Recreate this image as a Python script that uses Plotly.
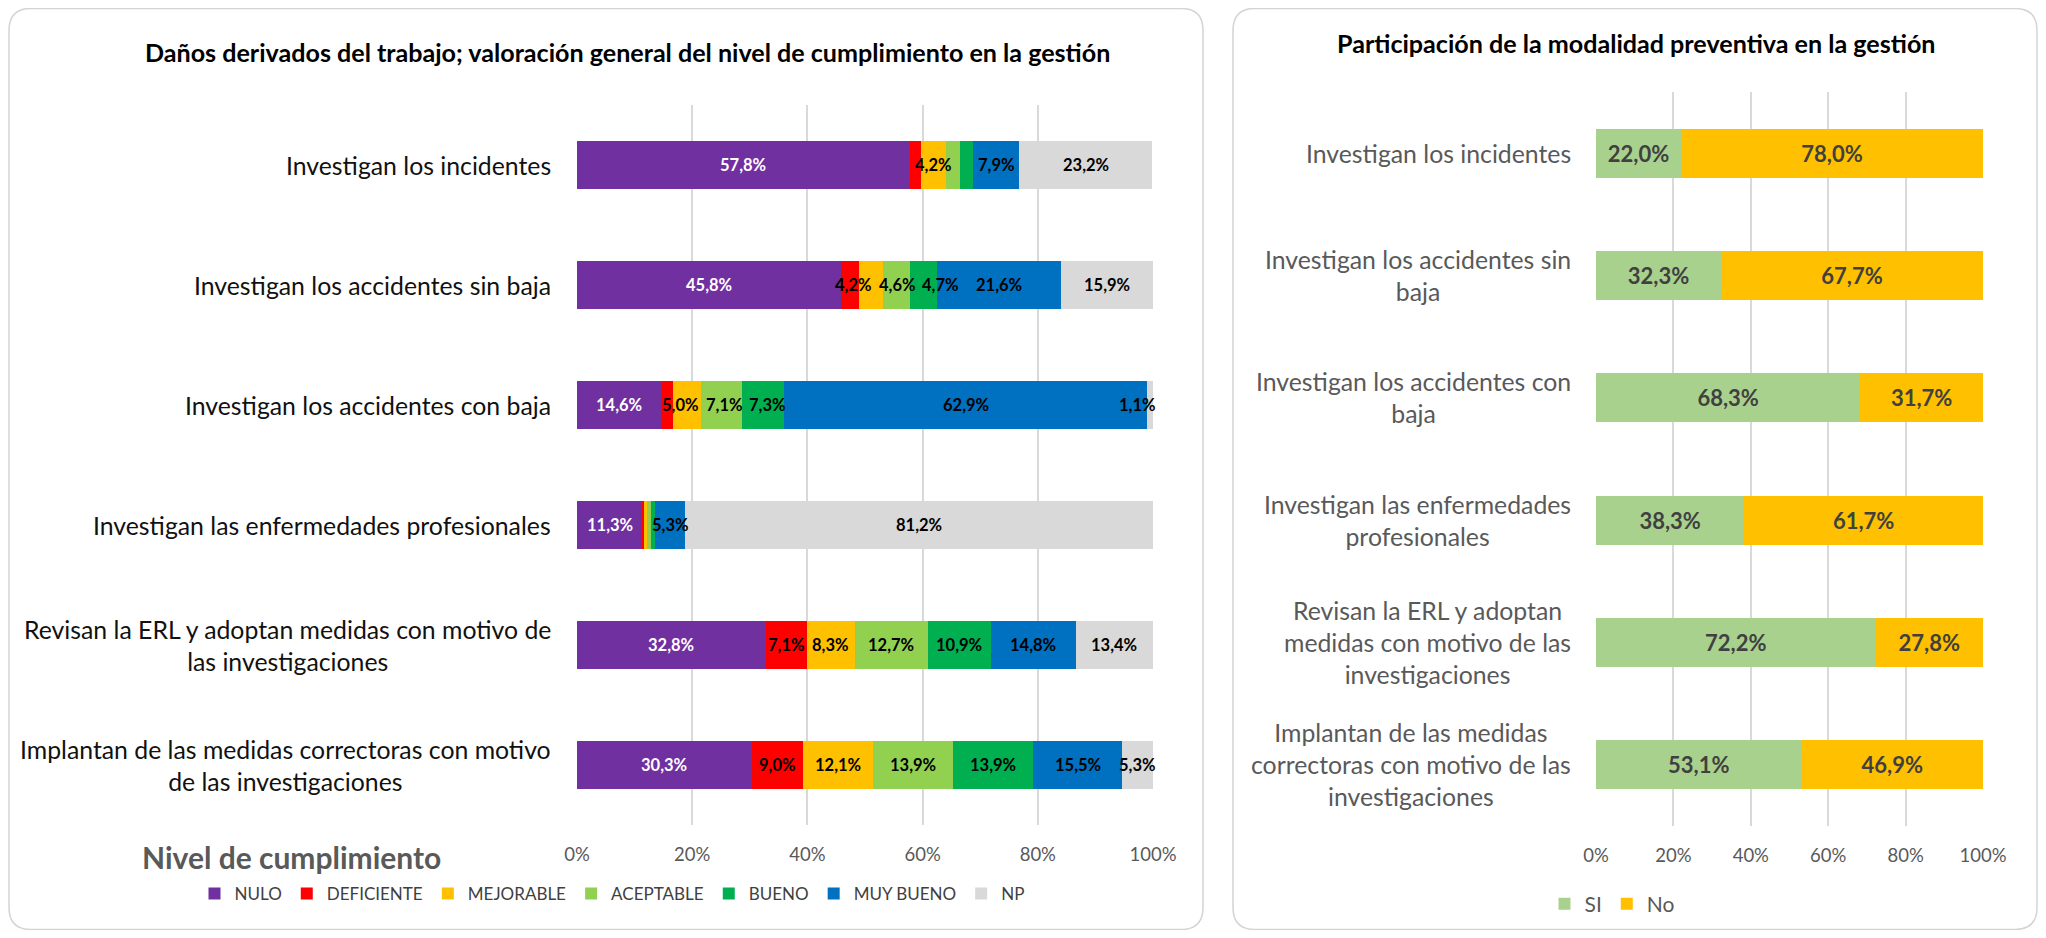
import plotly.graph_objects as go

# --- data ---
categories_left = [
    "Investigan los incidentes",
    "Investigan los accidentes sin baja",
    "Investigan los accidentes con baja",
    "Investigan las enfermedades profesionales",
    "Revisan la ERL y adoptan medidas con motivo de<br>las investigaciones",
    "Implantan de las medidas correctoras con motivo<br>de las investigaciones",
]
categories_right = [
    "Investigan los incidentes",
    "Investigan los accidentes sin<br>baja",
    "Investigan los accidentes con<br>baja",
    "Investigan las enfermedades<br>profesionales",
    "Revisan la ERL y adoptan<br>medidas con motivo de las<br>investigaciones",
    "Implantan de las medidas<br>correctoras con motivo de las<br>investigaciones",
]

nulo = [57.8, 45.8, 14.6, 11.3, 32.8, 30.3]
deficiente = [2.0, 3.2, 2.0, 0.3, 7.1, 9.0]
mejorable = [4.2, 4.2, 5.0, 0.5, 8.3, 12.1]
aceptable = [2.5, 4.6, 7.1, 0.7, 12.7, 13.9]
bueno = [2.3, 4.7, 7.3, 0.7, 10.9, 13.9]
muy_bueno = [7.9, 21.6, 62.9, 5.3, 14.8, 15.5]
np_ = [23.2, 15.9, 1.1, 81.2, 13.4, 5.3]

si = [22.0, 32.3, 68.3, 38.3, 72.2, 53.1]
no = [78.0, 67.7, 31.7, 61.7, 27.8, 46.9]

tick_vals = [0, 20, 40, 60, 80, 100]
tick_text = ["0%", "20%", "40%", "60%", "80%", "100%"]

FONT = "Lato"
# the page body keeps its 8px margin, so the figure is made 16px smaller
PAGE_W, PAGE_H, OFF = 2046, 938, 8
W, H = PAGE_W - 2 * OFF, PAGE_H - 2 * OFF


def pct(v):
    return f"{v:.1f}".replace(".", ",") + "%"


def px(x):
    # page pixel -> paper fraction
    return min(max((x - OFF) / W, 0.0005), 0.9995)


def py(y):
    return 1 - min(max((y - OFF) / H, 0.0005), 0.9995)


def spread(items, gap=1.5, char_w=1.5):
    # items: list of (center, text) in axis units; push apart labels that would collide
    pos = [c for c, _ in items]
    wid = [len(t) * char_w for _, t in items]
    for _ in range(200):
        moved = False
        for i in range(len(pos) - 1):
            need = (wid[i] + wid[i + 1]) / 2 + gap
            d = pos[i + 1] - pos[i]
            if d < need - 1e-6:
                s = (need - d) / 2
                pos[i] -= s
                pos[i + 1] += s
                moved = True
        pos = [min(max(p, w / 2 - 0.3), 100 - w / 2 + 0.3) for p, w in zip(pos, wid)]
        if not moved:
            break
    return pos


fig = go.Figure()

left_series = [
    ("NULO", nulo, "#7030A0", "white"),
    ("DEFICIENTE", deficiente, "#FF0000", "black"),
    ("MEJORABLE", mejorable, "#FFC000", "black"),
    ("ACEPTABLE", aceptable, "#92D050", "black"),
    ("BUENO", bueno, "#00B050", "black"),
    ("MUY BUENO", muy_bueno, "#0070C0", "black"),
    ("NP", np_, "#D9D9D9", "black"),
]
for name, vals, color, tcolor in left_series:
    fig.add_trace(go.Bar(
        y=categories_left, x=vals, name=name, orientation="h",
        marker=dict(color=color, line=dict(width=0)),
        xaxis="x", yaxis="y", legend="legend", hoverinfo="skip",
    ))

for name, vals, color in [("SI", si, "#A9D18E"), ("No", no, "#FFC000")]:
    fig.add_trace(go.Bar(
        y=categories_right, x=vals, name=name, orientation="h",
        marker=dict(color=color, line=dict(width=0)),
        text=[pct(v) for v in vals], textposition="inside",
        insidetextanchor="middle", textangle=0, constraintext="none",
        textfont=dict(family=FONT, size=22, color="#404040", weight="bold"),
        xaxis="x2", yaxis="y2", legend="legend2", hoverinfo="skip",
    ))

axis_common = dict(
    range=[0, 100], tickvals=tick_vals, ticktext=tick_text,
    showgrid=True, gridcolor="#D9D9D9", gridwidth=1.5,
    zeroline=False, showline=False, ticks="",
    tickfont=dict(family=FONT, size=18.5, color="#595959"),
    ticklabelstandoff=16, fixedrange=True, automargin=False,
)

annotations = []

# data labels of the left chart, placed from the stacked values
for i, cat in enumerate(categories_left):
    items, colors = [], []
    base = 0.0
    for name, vals, _, tcolor in left_series:
        v = vals[i]
        if v >= 4 or name == "NP":
            items.append((base + v / 2, pct(v)))
            colors.append(tcolor)
        base += v
    for x, (_, t), tc in zip(spread(items), items, colors):
        annotations.append(dict(
            text=f"<b>{t}</b>", xref="x", yref="y", x=x, y=cat,
            showarrow=False, xanchor="center", yanchor="middle",
            font=dict(family=FONT, size=16.5, color=tc),
        ))

# category labels (centred multi-line text, right edge near the axis)
for cat in categories_left:
    annotations.append(dict(
        text=cat, xref="paper", yref="y", x=px(553), y=cat,
        xanchor="right", yanchor="middle", align="center", showarrow=False,
        font=dict(family=FONT, size=24.8, color="#111111"),
    ))
for cat in categories_right:
    annotations.append(dict(
        text=cat, xref="paper", yref="y2", x=px(1573), y=cat,
        xanchor="right", yanchor="middle", align="center", showarrow=False,
        font=dict(family=FONT, size=24.8, color="#595959"),
    ))

annotations += [
    dict(text="<b>Daños derivados del trabajo; valoración general del nivel de cumplimiento en la gestión</b>",
         xref="paper", yref="paper", x=px(627), y=py(52), showarrow=False,
         xanchor="center", yanchor="middle",
         font=dict(family=FONT, size=25.1, color="black")),
    dict(text="<b>Participación de la modalidad preventiva en la gestión</b>",
         xref="paper", yref="paper", x=px(1636), y=py(43), showarrow=False,
         xanchor="center", yanchor="middle",
         font=dict(family=FONT, size=25.1, color="black")),
    dict(text="<b>Nivel de cumplimiento</b>",
         xref="paper", yref="paper", x=px(291), y=py(857), showarrow=False,
         xanchor="center", yanchor="middle",
         font=dict(family=FONT, size=30, color="#595959")),
]


def rounded(x0, y0, x1, y1, r=22):
    rx, ry = r / W, r / H
    X0, X1 = px(x0), px(x1)
    Y0, Y1 = py(y0), py(y1)  # Y0 top, Y1 bottom
    return (f"M {X0 + rx},{Y0} L {X1 - rx},{Y0} Q {X1},{Y0} {X1},{Y0 - ry} "
            f"L {X1},{Y1 + ry} Q {X1},{Y1} {X1 - rx},{Y1} "
            f"L {X0 + rx},{Y1} Q {X0},{Y1} {X0},{Y1 + ry} "
            f"L {X0},{Y0 - ry} Q {X0},{Y0} {X0 + rx},{Y0} Z")


shapes = [
    dict(type="path", xref="paper", yref="paper", path=rounded(6, 5, 1203, 934),
         line=dict(color="#D4D4D4", width=1.5), layer="below"),
    dict(type="path", xref="paper", yref="paper", path=rounded(1233, 5, 2038, 934),
         line=dict(color="#D4D4D4", width=1.5), layer="below"),
]

fig.update_layout(
    width=W, height=H,
    margin=dict(l=0, r=0, t=0, b=0, autoexpand=False),
    paper_bgcolor="white", plot_bgcolor="white",
    barmode="stack", bargap=0.6,
    font=dict(family=FONT),
    xaxis=dict(domain=[px(577), px(1153)], anchor="y", **axis_common),
    yaxis=dict(domain=[py(825), py(105)], anchor="x", autorange="reversed",
               showticklabels=False, showgrid=False, zeroline=False,
               showline=False, ticks="", fixedrange=True),
    xaxis2=dict(domain=[px(1596), px(1983)], anchor="y2", **axis_common),
    yaxis2=dict(domain=[py(826), py(92)], anchor="x2", autorange="reversed",
                showticklabels=False, showgrid=False, zeroline=False,
                showline=False, ticks="", fixedrange=True),
    legend=dict(orientation="h", x=px(612), y=py(894), xanchor="center",
                yanchor="middle", traceorder="normal",
                font=dict(family=FONT, size=17, color="#404040"),
                itemwidth=30, bgcolor="rgba(0,0,0,0)"),
    legend2=dict(orientation="h", x=px(1612), y=py(904), xanchor="center",
                 yanchor="middle", traceorder="normal",
                 font=dict(family=FONT, size=21, color="#595959"),
                 itemwidth=30, bgcolor="rgba(0,0,0,0)"),
    annotations=annotations,
    shapes=shapes,
    showlegend=True,
)

fig.write_html("out.html")
